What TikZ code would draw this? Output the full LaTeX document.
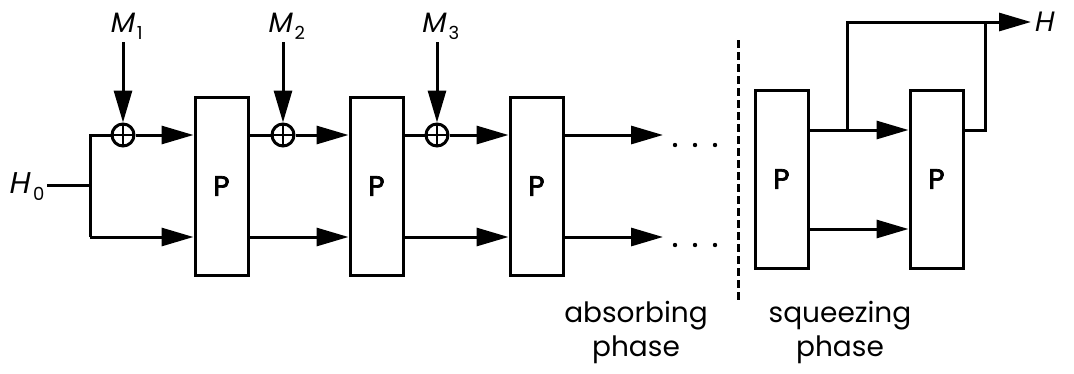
\documentclass[tikz,border=0pt]{standalone}
\usepackage{fontspec}
\setmainfont{Poppins}
\newfontfamily\slfont[FakeSlant=0.2]{Poppins}
\newfontfamily\pfont[FakeBold=2.5]{Poppins}
\usetikzlibrary{arrows.meta}
\newcommand\mysub[1]{\kern3.5pt\raisebox{-7pt}{\rmfamily\fontsize{18}{18}\selectfont #1}}
\begin{document}
\begin{tikzpicture}[x=1pt,y=-1pt, line width=3pt,
  box/.style={draw, minimum width=53pt, minimum height=178pt, inner sep=0pt, font=\pfont\fontsize{28}{28}\selectfont},
  xor/.style={draw, circle, minimum size=22pt, inner sep=0pt,
    path picture={\draw[line width=2pt] (path picture bounding box.north) -- (path picture bounding box.south)
      (path picture bounding box.west) -- (path picture bounding box.east);}},
  arr/.style={-{Triangle[length=32pt,width=18pt]}},
  lab/.style={font=\fontsize{28}{28}\selectfont, inner sep=1pt},
  phase/.style={font=\fontsize{28}{34}\selectfont, align=center, inner sep=0pt}]
\useasboundingbox (0,0) rectangle (1074,373);
% boxes
\node[box] (p1) at (221.5,186) {P};
\node[box] (p2) at (376.5,186) {P};
\node[box] (p3) at (536.5,186) {P};
\node[box] (p4) at (781.5,179) {P};
\node[box] (p5) at (936.5,179) {P};
% xor
\node[xor] (x1) at (123,135) {};
\node[xor] (x2) at (283,135) {};
\node[xor] (x3) at (437,135) {};
% labels
\node[lab, anchor=south] (M1) at (126,42) {\slfont M\mysub{1}};
\node[lab, anchor=south] (M2) at (286,42) {\slfont M\mysub{2}};
\node[lab, anchor=south] (M3) at (440,42) {\slfont M\mysub{3}};
\node[lab, anchor=east, font=\fontsize{30}{30}\selectfont] (H0) at (47,187) {\slfont H\mysub{0}};
\node[lab, anchor=west] (H) at (1031,22) {\slfont H};
% coordinates
\coordinate (b0) at (90,185);
\coordinate (t0) at (90,135);
\coordinate (u0) at (90,237);
\coordinate (e1) at (663,135);
\coordinate (e2) at (663,237);
\coordinate (s1) at (847,130);
\coordinate (s2) at (847,22);
\coordinate (r1) at (985,130);
\coordinate (r2) at (985,22);
% message arrows
\draw[arr] (M1.south -| x1) -- (x1.north);
\draw[arr] (M2.south -| x2) -- (x2.north);
\draw[arr] (M3.south -| x3) -- (x3.north);
% input
\draw (H0.east |- b0) -- (b0);
\draw (u0) -- (t0) -- (x1.west);
\draw[arr] (x1.east) -- (x1 -| p1.west);
\draw[arr] (u0) -- (u0 -| p1.west);
% stage 2
\draw (x2 -| p1.east) -- (x2.west);
\draw[arr] (x2.east) -- (x2 -| p2.west);
\draw[arr] (u0 -| p1.east) -- (u0 -| p2.west);
% stage 3
\draw (x3 -| p2.east) -- (x3.west);
\draw[arr] (x3.east) -- (x3 -| p3.west);
\draw[arr] (u0 -| p2.east) -- (u0 -| p3.west);
% outputs of absorbing phase
\draw[arr] (e1 -| p3.east) -- (e1);
\draw[arr] (e2 -| p3.east) -- (e2);
\foreach \xx in {675,695,715}{
  \fill (\xx,145) circle (2.2);
  \fill (\xx,245) circle (2.2);
}
% dashed separator
\draw[dash pattern=on 8pt off 4pt] (738,40) -- (738,302);
% squeezing
\draw[arr] (s1 -| p4.east) -- (s1 -| p5.west);
\draw[arr] (p4.east |- 0,229) -- (p5.west |- 0,229);
\draw[arr] (s1) -- (s2) -- (H.west);
\draw (r1 -| p5.east) -- (r1) -- (r2);
% phase labels
\node[phase] (ab) at (636,332) {absorbing\\phase};
\node[phase] (sq) at (840,332) {squeezing\\phase};
\end{tikzpicture}
\end{document}
